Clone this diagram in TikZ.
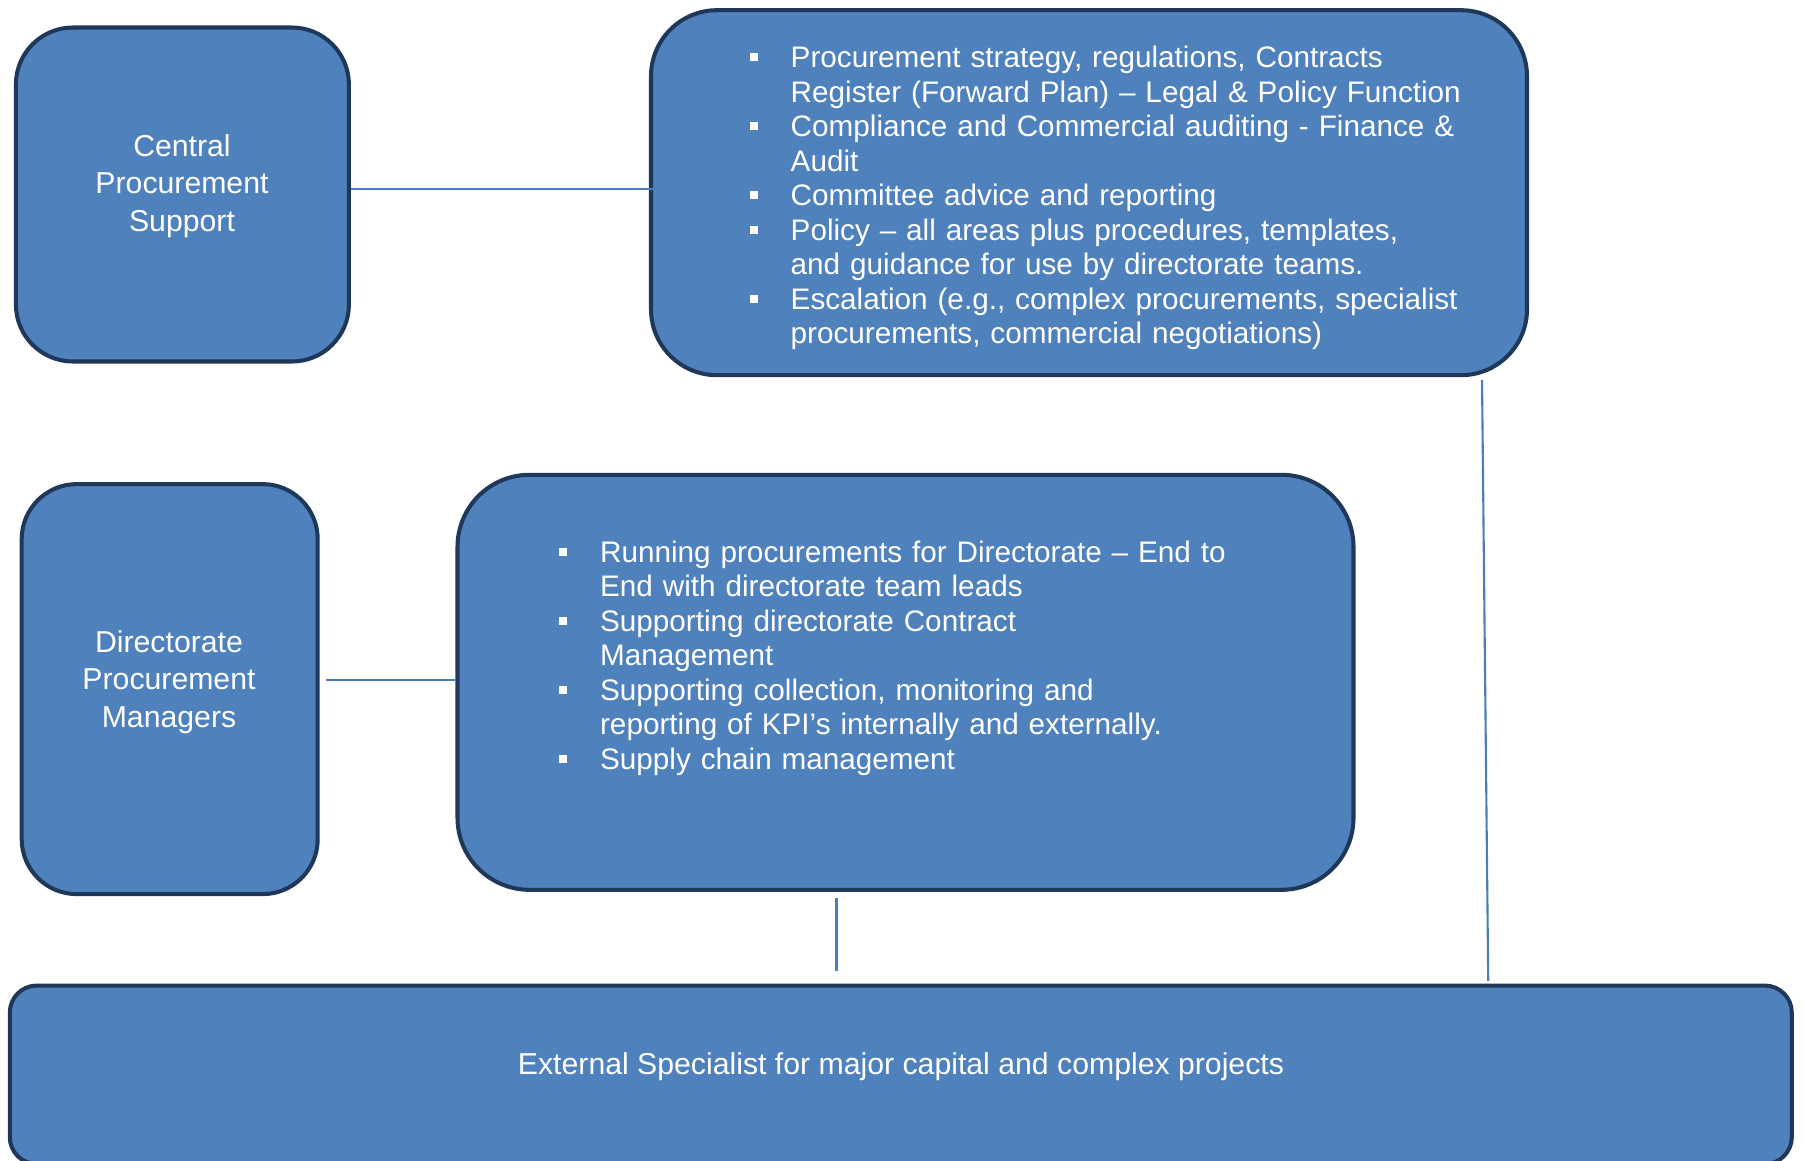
\documentclass[tikz,border=0pt]{standalone}
\usepackage{fontspec}
\setmainfont{Liberation Sans}
\usetikzlibrary{calc}
\definecolor{boxfill}{HTML}{4F81BD}
\definecolor{boxline}{HTML}{1F3758}
\definecolor{linkblue}{HTML}{4A7EBB}
% square list marker hung left of the text
\newcommand{\bul}{\leavevmode\llap{\rule[0.22em]{0.08cm}{0.08cm}\hspace{0.33cm}}}

\begin{document}
\begin{tikzpicture}[
    every node/.style={font=\fontsize{8.6}{9.82}\selectfont, text=white},
    box/.style={draw=boxline, fill=boxfill, line width=1.15pt, inner sep=0pt},
    caption/.style={align=center, font=\fontsize{8.6}{10.6}\selectfont},
    listtxt/.style={anchor=base west, inner sep=0pt, text width=7.6cm, align=left,
        font=\fontsize{8.45}{9.82}\selectfont},
    link/.style={draw=linkblue, line width=0.6pt},
]
% page frame
\useasboundingbox (0,0) rectangle (18.04,-11.6);
\clip (0,0) rectangle (18.04,-11.6);
% the five boxes
\node[box, rounded corners=5.7mm, minimum width=3.33cm, minimum height=3.34cm] (central) at (1.824,-1.945) {};
\node[box, rounded corners=6.6mm, minimum width=8.76cm, minimum height=3.65cm] (centralduties) at (10.89,-1.927) {};
\node[box, rounded corners=5.5mm, minimum width=2.96cm, minimum height=4.10cm] (dir) at (1.697,-6.891) {};
\node[box, rounded corners=7.2mm, minimum width=8.96cm, minimum height=4.15cm] (dirduties) at (9.055,-6.823) {};
\node[box, rounded corners=2.7mm, minimum width=17.82cm, minimum height=1.785cm] (external) at (9.008,-10.748) {};
% titles
\node[caption] (centraltxt) at (1.82,-1.86) {Central\\Procurement\\Support};
\node[caption] (dirtxt) at (1.69,-6.82) {Directorate\\Procurement\\Managers};
\node (externaltxt) at (9.01,-10.665) {External Specialist for major capital and complex projects};
% duty lists
\node[listtxt] (centrallist) at (7.90,-0.677) {%
    \bul Procurement strategy, regulations, Contracts\\
    Register (Forward Plan) – Legal \& Policy Function\\
    \bul Compliance and Commercial auditing - Finance \&\\
    Audit\\
    \bul Committee advice and reporting\\
    \bul Policy – all areas plus procedures, templates,\\
    and guidance for use by directorate teams.\\
    \bul Escalation (e.g., complex procurements, specialist\\
    procurements, commercial negotiations)};
\node[listtxt] (dirlist) at (5.994,-5.623) {%
    \bul Running procurements for Directorate – End to\\
    End with directorate team leads\\
    \bul Supporting directorate Contract\\
    Management\\
    \bul Supporting collection, monitoring and\\
    reporting of KPI’s internally and externally.\\
    \bul Supply chain management};
% connectors
\draw[link] ($(central.east)+(0,0.058)$) -- ($(central.east -| centralduties.west)+(0.11,0.058)$);
\draw[link] ($(dir.east)+(0.06,0.09)$) -- ($(dir.east -| dirduties.west)+(0,0.09)$);
\draw[link] ($(dirduties.south)+(-0.69,-0.06)$) -- ($(external.north -| dirduties.south)+(-0.69,0.127)$);
\draw[link] ($(centralduties.south east)+(-0.47,-0.026)$) -- ($(external.north east)+(-3.056,0.027)$);
\end{tikzpicture}
\end{document}
